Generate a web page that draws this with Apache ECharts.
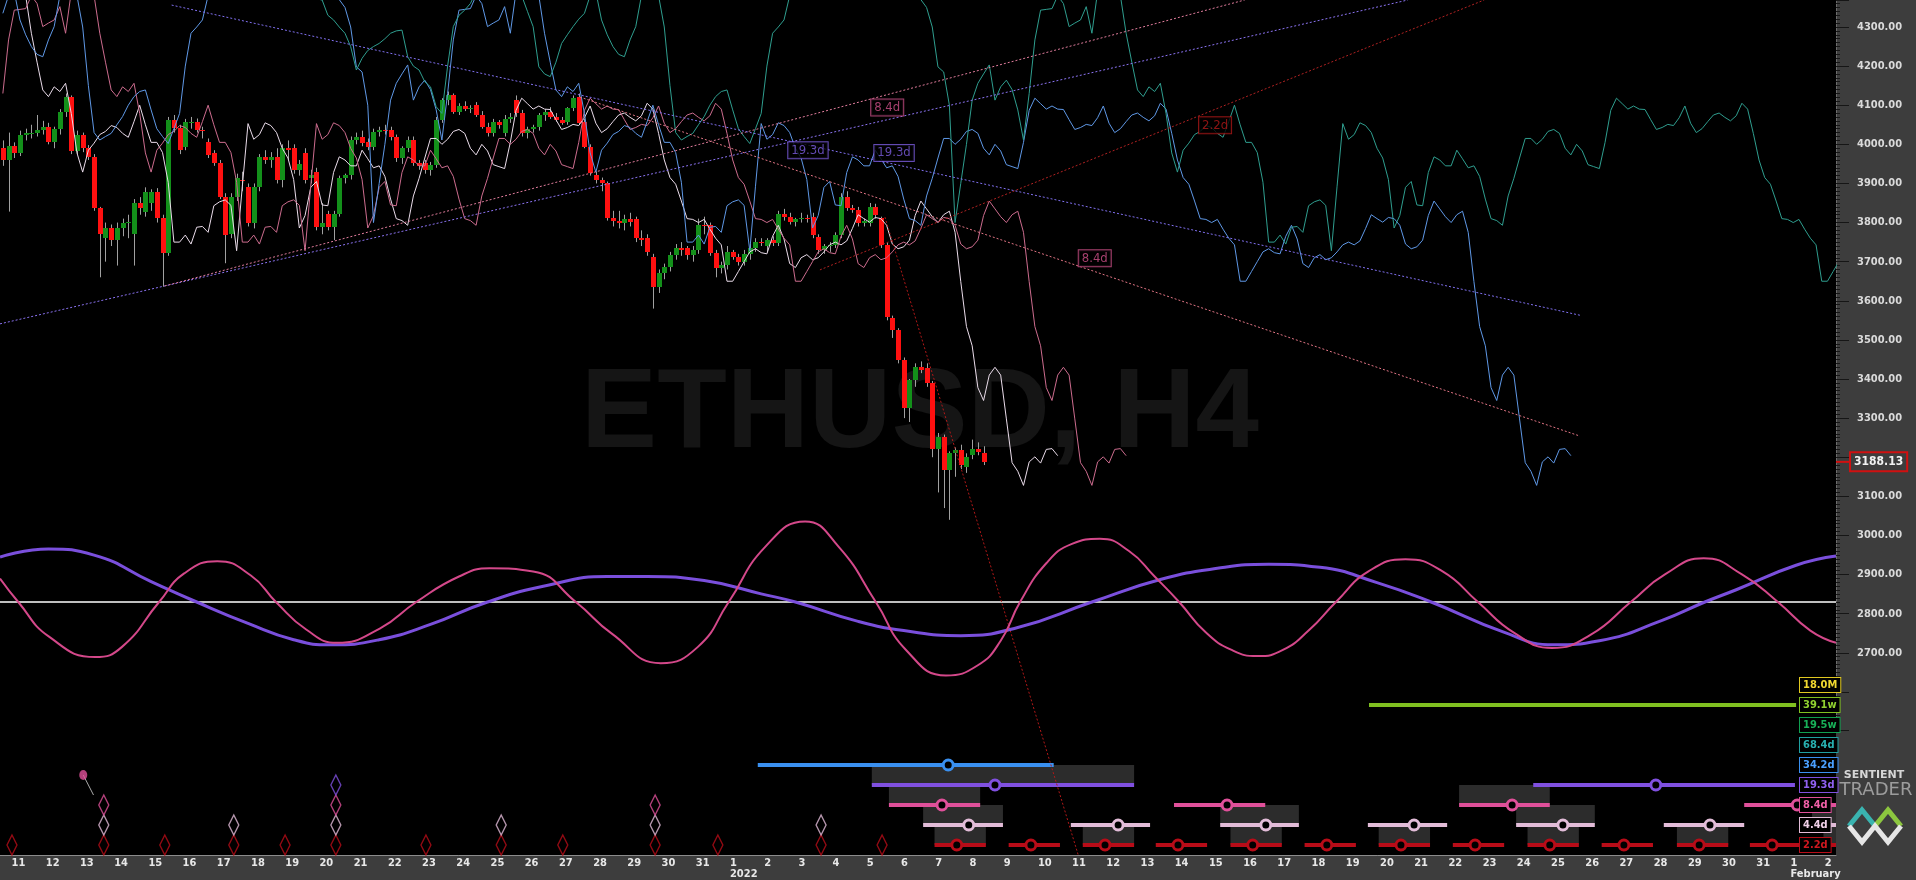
<!DOCTYPE html>
<html><head><meta charset="utf-8">
<script src="https://cdn.jsdelivr.net/npm/echarts@6/dist/echarts.min.js"></script>
<style>html,body{margin:0;padding:0;background:#3d3d3d;overflow:hidden}#c{width:1916px;height:880px}</style>
</head><body><div id="c"></div>
<script>
// ---------------- DATA ----------------
// 4-hour candles, bar 0 = 10 Dec 2021 20:00
const opens = [3990,3960,3995,3978,4024,4028,4030,4037,4045,4005,4038,4082,4120,3982,4025,3990,3968,3836,3760,3785,3755,3785,3798,3772,3849,3828,3850,3879,3811,3721,4062,4041,3994,4054,4058,4037,4007,3977,3951,3866,3772,3866,3910,3892,3798,3892,3968,3960,3968,3909,3990,3990,3934,3977,3913,3930,3789,3823,3789,3823,3913,3921,4011,4020,4007,3994,4032,4037,4037,4020,3964,3990,4011,3951,3951,3934,3947,4062,4113,4126,4083,4098,4090,4100,4075,4045,4028,4058,4028,4066,4113,4079,4028,4040,4045,4075,4083,4071,4062,4058,4092,4122,4058,3994,3921,3909,3900,3811,3805,3800,3808,3808,3760,3760,3713,3636,3670,3687,3717,3734,3734,3717,3730,3794,3794,3721,3683,3691,3725,3713,3700,3720,3735,3750,3740,3755,3747,3823,3815,3802,3808,3812,3815,3764,3730,3740,3742,3768,3866,3836,3833,3798,3798,3840,3811,3742,3555,3525,3448,3325,3397,3431,3427,3389,3222,3252,3167,3210,3218,3176,3205,3222,3210];
const highs = [4010,4030,4005,4035,4040,4050,4075,4060,4055,4045,4090,4130,4125,4035,4030,3998,3975,3840,3800,3795,3800,3810,3820,3860,3865,3890,3885,3888,3820,4070,4075,4050,4065,4070,4066,4045,4015,3985,3960,3875,3875,3925,3930,3900,3900,3975,3985,3980,3990,4000,4010,4000,3960,3990,3935,3940,3850,3830,3830,3920,3925,4020,4030,4035,4015,4040,4045,4050,4045,4025,3995,4020,4020,3960,3960,3955,4070,4118,4135,4130,4105,4110,4100,4108,4085,4055,4065,4062,4075,4080,4125,4088,4045,4050,4080,4090,4095,4080,4070,4095,4125,4130,4065,4000,3930,3915,3905,3830,3830,3820,3825,3815,3780,3770,3720,3680,3695,3725,3745,3750,3740,3740,3810,3815,3800,3730,3700,3740,3730,3720,3730,3745,3760,3760,3760,3765,3830,3835,3825,3812,3825,3820,3825,3770,3745,3750,3775,3875,3880,3845,3840,3810,3850,3848,3815,3748,3562,3530,3455,3400,3440,3445,3440,3395,3262,3258,3215,3225,3232,3210,3245,3238,3228];
const lows = [3945,3828,3965,3970,4010,4015,4020,4025,4000,3990,4025,4070,3975,3975,3980,3960,3830,3660,3700,3740,3690,3765,3760,3690,3820,3815,3830,3800,3636,3715,4030,3975,3985,4040,4030,4015,3965,3945,3860,3696,3760,3855,3880,3790,3785,3880,3950,3940,3900,3890,3960,3925,3920,3900,3900,3780,3770,3780,3755,3815,3900,3910,4000,3995,3985,3985,4020,4025,4010,3955,3950,3980,3945,3935,3925,3920,3940,4055,4100,4078,4075,4085,4080,4070,4040,4020,4020,4040,4020,4055,4070,4020,4015,4030,4035,4060,4065,4058,4050,4050,4085,4050,3990,3920,3900,3880,3805,3790,3785,3780,3790,3750,3740,3715,3580,3620,3655,3675,3705,3715,3705,3700,3720,3770,3715,3660,3670,3680,3705,3690,3690,3705,3725,3740,3725,3740,3740,3805,3795,3790,3800,3800,3760,3720,3720,3725,3735,3760,3830,3825,3790,3790,3790,3810,3735,3550,3505,3440,3300,3290,3380,3415,3380,3200,3110,3070,3040,3150,3170,3160,3195,3205,3180];
const closes = [3960,3995,3978,4024,4028,4030,4037,4045,4005,4038,4082,4120,3982,4025,3990,3968,3836,3772,3785,3755,3785,3798,3802,3849,3838,3879,3879,3811,3721,4062,4041,3985,4058,4058,4037,4033,3973,3951,3866,3768,3866,3913,3905,3798,3892,3968,3960,3968,3909,3990,3985,3934,3950,3909,3921,3789,3800,3789,3823,3913,3921,4011,4020,4003,3994,4032,4037,4035,4020,3964,3990,4011,3951,3945,3934,3947,4062,4113,4126,4083,4098,4090,4094,4075,4045,4028,4058,4050,4066,4070,4079,4028,4040,4045,4075,4083,4071,4062,4054,4092,4118,4054,3994,3926,3909,3900,3811,3805,3800,3808,3802,3760,3755,3725,3636,3670,3687,3717,3734,3730,3717,3730,3794,3790,3721,3683,3691,3725,3713,3700,3720,3735,3750,3747,3755,3747,3823,3815,3802,3808,3812,3808,3768,3730,3740,3742,3768,3866,3836,3833,3798,3803,3840,3819,3742,3559,3525,3448,3325,3397,3431,3422,3389,3222,3252,3167,3210,3218,3180,3201,3222,3213,3188.13];
const lastPrice = 3188.13;

// median price of each visible candle (FLD source), and of the 205 bars before the chart
const mid = [3978,3929,3985,4003,4025,4033,4048,4043,4028,4018,4058,4100,4050,4005,4005,3979,3903,3750,3750,3768,3745,3788,3790,3775,3843,3853,3858,3844,3728,3893,4053,4013,4025,4055,4048,4030,3990,3965,3910,3786,3818,3890,3905,3845,3843,3928,3968,3960,3945,3945,3985,3963,3940,3945,3918,3860,3810,3805,3793,3868,3913,3965,4015,4015,4000,4013,4033,4038,4028,3990,3973,4000,3983,3948,3943,3938,4005,4087,4118,4104,4090,4098,4090,4089,4063,4038,4043,4051,4048,4068,4098,4054,4030,4040,4058,4075,4080,4069,4060,4073,4105,4090,4028,3960,3915,3898,3855,3810,3808,3800,3808,3783,3760,3743,3650,3650,3675,3700,3725,3733,3723,3720,3765,3793,3758,3695,3685,3710,3718,3705,3710,3725,3743,3750,3743,3753,3785,3820,3810,3801,3813,3810,3793,3745,3733,3738,3755,3818,3855,3835,3815,3800,3820,3829,3775,3649,3534,3485,3378,3345,3410,3430,3410,3298,3186,3164,3128,3188,3201,3185,3220,3222,3204];
const hist = [4450,4470,4500,4520,4540,4560,4580,4600,4620,4640,4650,4640,4620,4600,4580,4560,4560,4580,4600,4620,4640,4650,4660,4650,4640,4620,4600,4580,4560,4540,4520,4500,4480,4470,4460,4450,4440,4430,4420,4420,4430,4440,4450,4440,4430,4420,4410,4400,4390,4390,4390,4385,4380,4380,4375,4372,4369,4330,4318,4300,4284,4250,4190,4220,4240,4250,4258,4270,4284,4290,4292,4224,4200,4190,4160,4147,4096,4079,4200,4301,4330,4343,4360,4390,4410,4420,4430,4420,4410,4400,4390,4380,4340,4301,4198,4180,4173,4210,4258,4280,4301,4320,4335,4380,4390,4318,4280,4250,4230,4224,4267,4301,4380,4400,4400,4380,4300,4150,4030,4011,4020,4028,4050,4071,4100,4122,4135,4139,4088,4040,4020,4002,4040,4079,4200,4284,4300,4318,4380,4400,4420,4440,4460,4480,4490,4500,4510,4500,4490,4480,4470,4460,4450,4440,4430,4420,4410,4400,4400,4390,4380,4370,4350,4300,4198,4185,4100,3800,3900,4000,4113,4156,4180,4203,4113,4147,4164,4140,4088,4011,4130,4267,4343,4345,4347,4380,4360,4301,4310,4318,4352,4284,4390,4410,4420,4400,4380,4284,4210,4139,4122,4147,4135,4156,4079];
// FLD forward shifts in bars (half cycle): 4.4d, 8.4d, 34.2d, 68.4d
const fldNames = ['4.4d FLD','8.4d FLD','34.2d FLD','68.4d FLD'];
const fldShifts = [13, 25, 103, 205];

// dotted trend lines [x1 bar, price1, x2 bar, price2]
const trendLines = [[-0.5,3541,246.4,4369],[28.4,3638,217.8,4369],[143.3,3679,259.8,4369],[154.7,3814,188.6,2183],[29.6,4356,276.6,3563],[101.2,4121,276.6,3254]];
const lineTags = [[155.1,4094,'8.4d'],[141.2,3985,'19.3d'],[156.3,3978,'19.3d'],[212.6,4049,'2.2d'],[191.5,3709,'8.4d']];

// cycle waves (amplitude units) [bar, value]
const wave193 = [[-0.5,44],[8,52],[16,46],[26,20],[34,0],[43,-21],[51,-37],[57.5,-42],[66,-37],[75,-22],[85,0],[96,17],[106,25],[113,25],[123,21],[133,8],[139,0],[150,-19],[158,-28],[168,-33],[178,-25],[191,0],[203,22],[213,33],[222,37],[231,34],[241,19],[250.5,0],[263,-29],[272,-42],[280,-38],[291,-18],[298.5,0],[304,12],[314.5,36],[321.5,45]];
const wave84 = [[-0.5,23],[2.7,0],[8.1,-34],[16.2,-54],[20.9,-44],[27.4,0],[31.8,28],[37.6,40],[43.5,26],[47.9,0],[53.2,-27],[58.6,-40],[66.1,-26],[72.5,0],[80,25],[85.4,33],[93,30],[100.5,0],[106.8,-31],[115.4,-60],[121.9,-44],[127.3,0],[133.7,54],[140.7,79],[146.6,54],[153.1,0],[158.4,-47],[165.4,-72],[171,-62],[175,-38],[178.4,0],[183,38],[187.5,57],[192.4,62],[197.5,50],[202,25],[206.3,0],[211,-30],[215.5,-47],[220,-53],[224.5,-47],[229,-28],[233.8,0],[239.5,30],[246,42],[252.5,30],[258.7,0],[265,-30],[271.7,-45],[278.5,-32],[285.5,0],[291.5,27],[298.3,43],[305,27],[311.3,0],[317,-28],[321.5,-40]];

// cycle rows
const rowNames = ['18.0M','39.1w','19.5w','68.4d','34.2d','19.3d','8.4d','4.4d','2.2d'];
// projected troughs [row, from bar, to bar, trough bar (-999 none), shaded]
const projections = [
 [1,239.6,314.5,-999,0],
 [4,132.4,184.3,165.8,0],
 [5,152.4,198.4,174.0,1],[5,268.4,314.3,289.9,0],
 [6,155.4,171.4,164.7,1],[6,205.4,221.4,214.7,0],[6,255.4,271.3,264.7,1],[6,305.4,330,314.7,0],
 [7,161.4,175.4,169.4,1],[7,187.3,201.2,195.6,0],[7,213.5,227.3,221.5,1],[7,239.4,253.3,247.5,0],[7,265.4,279.2,273.6,1],[7,291.3,305.4,299.4,0],[7,317.3,331.3,325.3,1],
 [8,163.4,172.4,167.3,1],[8,176.4,185.4,180.3,0],[8,189.4,198.4,193.3,1],[8,202.2,211.2,206.1,0],[8,215.3,224.3,219.2,1],[8,228.3,237.3,232.2,0],[8,241.3,250.3,245.2,1],[8,254.3,263.3,258.2,0],[8,267.4,276.4,271.3,1],[8,280.4,289.4,284.3,0],[8,293.6,302.6,297.5,1],[8,306.4,315.4,310.3,0],[8,319.3,328.3,323.2,1]
];
// past troughs [row, bar]
const pastTroughs = [
 [8,1.6],[8,17.7],[8,28.4],[8,40.5],[8,49.5],[8,58.4],[8,74.2],[8,87.4],[8,98.2],[8,114.4],[8,125.4],[8,143.5],[8,154.2],
 [7,17.7],[7,40.5],[7,58.4],[7,87.4],[7,114.4],[7,143.5],
 [6,17.7],[6,58.4],[6,114.4],
 [5,58.4]
];
const noteDot = [[14.1,4.5],[15.9,5.5]];

// x-axis day labels (11 Dec 2021 .. 2 Feb 2022)
const dayLabels = ['11','12','13','14','15','16','17','18','19','20','21','22','23','24','25','26','27','28','29','30','31',
 '1','2','3','4','5','6','7','8','9','10','11','12','13','14','15','16','17','18','19','20','21','22','23','24','25','26','27','28','29','30','31','1','2'];
const daySubLabels = {21:'2022', 52:'February'};

// ---------------- STYLE ----------------
const FONT = "'Liberation Sans Narrow','DejaVu Sans Condensed','Arial Narrow',sans-serif";
const X_MIN = -0.5, X_MAX = 321.5, Y_MIN = 2183, Y_MAX = 4369;
const DISP_MIN = Y_MAX - 730 * (Y_MAX - Y_MIN) / 855;
const UP = '#13901a', DOWN = '#ff1010', WICK = '#a0a0a0';
const fldColors = ['#eadcea','#cc6c8e','#5f98e6','#2f9e8f'];
const trendColors = ['#8a72f0','#e07c9c','#b02222','#b01818','#8070f0','#e07484'];
const lineTagColors = ['#d0508a','#7c5ce0','#7c5ce0','#b01818','#d0508a'];
const rowColors = ['#e0c820','#80c020','#10a050','#20a0a0','#3a90f0','#8050e0','#e0509a','#e2bcd8','#b80c18'];
const rowTextColors = ['#f0d830','#90d030','#18b058','#28b0b0','#4aa0ff','#9060f0','#f060a8','#f0d0e8','#d01820'];

// ---------------- BUILD ----------------
const SLOTS = 322;
const slotLabels = [''], slotSubs = [''];
dayLabels.forEach((d, k) => {
  slotLabels.push(d);
  slotSubs.push(daySubLabels[k] || '');
  for (let j = 0; j < 5; j++) { slotLabels.push(''); slotSubs.push(''); }
});
slotLabels.length = SLOTS; slotSubs.length = SLOTS;
const slotCats = slotLabels.map((_, i) => 's' + i);
const isDay = (i) => slotLabels[i] !== '';
const hasSub = (i) => slotSubs[i] !== '';

const bars = closes.map((c, i) => [i, opens[i], highs[i], lows[i], c]);

function renderCandle(params, api) {
  const i = api.value(0), o = api.value(1), h = api.value(2), l = api.value(3), c = api.value(4);
  const pH = api.coord([i, h]), pL = api.coord([i, l]), pO = api.coord([i, o]), pC = api.coord([i, c]);
  const x = Math.round(pH[0]);
  const top = Math.round(Math.min(pO[1], pC[1])), bot = Math.round(Math.max(pO[1], pC[1]));
  return {type: 'group', children: [
    {type: 'line', shape: {x1: x + 0.5, y1: pH[1], x2: x + 0.5, y2: pL[1]}, style: {stroke: WICK, lineWidth: 1}},
    {type: 'rect', shape: {x: x - 2, y: top, width: 5, height: Math.max(1, bot - top)}, style: {fill: c >= o ? UP : DOWN}}
  ]};
}
function renderShade(params, api) {
  const row = api.value(0), x1 = api.value(1), x2 = api.value(2);
  const a = api.coord([x1, row - 1]), b = api.coord([x2, row]);
  return {type: 'rect', shape: {x: a[0], y: a[1], width: b[0] - a[0], height: b[1] - a[1]}, style: {fill: '#2c2c2c'}};
}
function renderProj(params, api) {
  const row = api.value(0), x1 = api.value(1), x2 = api.value(2), xc = api.value(3);
  const col = rowColors[row];
  const a = api.coord([x1, row]), b = api.coord([x2, row]);
  const ch = [{type: 'line', shape: {x1: a[0], y1: a[1], x2: b[0], y2: b[1]}, style: {stroke: col, lineWidth: 4}}];
  if (xc > -100) {
    const c = api.coord([xc, row]);
    ch.push({type: 'circle', shape: {cx: c[0], cy: c[1], r: 5}, style: {fill: '#000', stroke: col, lineWidth: 3}});
  }
  return {type: 'group', children: ch};
}

const series = [];
series.push({type: 'custom', name: 'ETHUSD', xAxisIndex: 0, yAxisIndex: 0, z: 3, clip: true, silent: true,
  encode: {x: 0, y: [1, 2, 3, 4]}, data: bars, renderItem: renderCandle});

fldShifts.forEach((s, k) => {
  const src = hist.slice(hist.length - s).concat(mid);
  series.push({type: 'line', name: fldNames[k], xAxisIndex: 0, yAxisIndex: 0, z: 4, silent: true, clip: true,
    showSymbol: false, symbol: 'none', data: src.map((v, j) => [j, v]),
    lineStyle: {color: fldColors[k], width: 1}});
});

trendLines.forEach((t, k) => {
  series.push({type: 'line', xAxisIndex: 0, yAxisIndex: 0, z: 5, silent: true, clip: true, showSymbol: false, symbol: 'none',
    data: [[t[0], t[1]], [t[2], t[3]]], lineStyle: {color: trendColors[k], width: 1, type: [2, 2]}});
});

series.push({type: 'scatter', xAxisIndex: 0, yAxisIndex: 0, z: 6, silent: true, symbolSize: 0,
  data: lineTags.map((t, k) => ({value: [t[0], t[1]], label: {formatter: t[2], color: lineTagColors[k], borderColor: lineTagColors[k]}})),
  label: {show: true, position: 'inside', fontSize: 13, fontFamily: FONT, backgroundColor: '#000', borderWidth: 1, padding: [2, 3, 1, 3]}});

// last price tag on the price scale
series.push({type: 'line', xAxisIndex: 0, yAxisIndex: 0, silent: true, clip: false, showSymbol: false, symbol: 'none', z: 20,
  data: [[closes.length - 1, lastPrice]], lineStyle: {color: 'rgba(0,0,0,0)'},
  markLine: {silent: true, symbol: ['none', 'none'], lineStyle: {color: 'rgba(0,0,0,0)', width: 1, type: 'solid'},
    label: {show: true, opacity: 1, position: 'end', formatter: '{c|}{t|' + lastPrice.toFixed(2) + '}', distance: 0, padding: 0,
      rich: {c: {width: 15, height: 2, backgroundColor: '#d01010'},
        t: {color: '#f2f2f2', backgroundColor: '#3d3d3d', borderColor: '#d01010', borderWidth: 2, padding: [3, 3, 2, 3],
          fontSize: 12, fontWeight: 'bold', fontFamily: FONT}}},
    data: [{yAxis: lastPrice}]}});

series.push({type: 'line', xAxisIndex: 2, yAxisIndex: 1, z: 5, silent: true, showSymbol: false, symbol: 'none', smooth: 0.5,
  data: wave193, lineStyle: {color: '#7a4fdc', width: 3},
  markLine: {silent: true, symbol: ['none', 'none'], label: {show: false}, lineStyle: {color: '#ffffff', width: 1.5, type: 'solid'}, data: [{yAxis: 0}]}});
series.push({type: 'line', xAxisIndex: 2, yAxisIndex: 1, z: 5, silent: true, showSymbol: false, symbol: 'none', smooth: 0.5,
  data: wave84, lineStyle: {color: '#d4488a', width: 2}});

series.push({type: 'custom', xAxisIndex: 3, yAxisIndex: 3, z: 3, clip: true, silent: true, encode: {x: [1, 2], y: 0},
  data: projections.filter(p => p[4]), renderItem: renderShade});
series.push({type: 'custom', xAxisIndex: 3, yAxisIndex: 3, z: 4, clip: true, silent: true, encode: {x: [1, 2], y: 0},
  data: projections, renderItem: renderProj});
series.push({type: 'scatter', xAxisIndex: 3, yAxisIndex: 3, z: 4, silent: true, symbol: 'diamond', symbolSize: [10, 20],
  data: pastTroughs.map(p => ({value: [p[1], p[0]], itemStyle: {borderColor: rowColors[p[0]]}})),
  itemStyle: {color: 'rgba(0,0,0,0)', borderWidth: 1.5}});
series.push({type: 'line', xAxisIndex: 3, yAxisIndex: 3, z: 4, silent: true, symbol: 'none',
  data: noteDot, lineStyle: {color: '#aaaaaa', width: 1}});
series.push({type: 'scatter', xAxisIndex: 3, yAxisIndex: 3, z: 5, silent: true, symbol: 'circle', symbolSize: [8, 10],
  data: [noteDot[0]], itemStyle: {color: '#e0509a'}});

const rowRich = {};
rowNames.forEach((n, i) => {
  rowRich['r' + i] = {color: rowTextColors[i], borderColor: rowColors[i], borderWidth: 1, backgroundColor: '#000',
    padding: [2, 3, 1, 3], fontSize: 11, fontWeight: 'bold', fontFamily: FONT, lineHeight: 12};
});

const noZero = {onZero: false};
const option = {
  animation: false,
  backgroundColor: '#3d3d3d',
  textStyle: {fontFamily: FONT},
  grid: [
    {left: 0, right: 80, top: 0, bottom: 25, show: true, backgroundColor: '#000', borderWidth: 0},
    {left: 0, right: 80, top: 500, height: 204, show: false},
    {left: 0, right: 80, top: 675, height: 180, show: false},
    {left: 0, right: 80, top: 0, height: 730, show: false}
  ],
  xAxis: [
    {type: 'value', gridIndex: 0, min: X_MIN, max: X_MAX, show: false, axisLine: noZero},
    {type: 'category', gridIndex: 0, data: slotCats, boundaryGap: true, position: 'bottom',
      axisLine: {onZero: false, lineStyle: {color: '#8c8c8c', width: 1}},
      axisTick: {alignWithLabel: true, interval: isDay, length: 7, lineStyle: {color: '#141414'}},
      axisLabel: {interval: isDay, formatter: (v, i) => slotLabels[i], align: 'left', margin: 3, padding: [0, 0, 0, 3],
        color: '#e8e8e8', fontSize: 11, fontWeight: 'bold', fontFamily: FONT, hideOverlap: false},
      splitLine: {show: false}},
    {type: 'value', gridIndex: 1, min: X_MIN, max: X_MAX, show: false, axisLine: noZero},
    {type: 'value', gridIndex: 2, min: X_MIN, max: X_MAX, show: false, axisLine: noZero},
    {type: 'value', gridIndex: 3, min: X_MIN, max: X_MAX, show: false, axisLine: noZero},
    {type: 'category', gridIndex: 0, data: slotCats, boundaryGap: true, position: 'bottom',
      axisLine: {show: false, onZero: false}, axisTick: {show: false}, splitLine: {show: false},
      axisLabel: {interval: hasSub, formatter: (v, i) => slotSubs[i], align: 'left', margin: 14, padding: [0, 0, 0, 3],
        color: '#e8e8e8', fontSize: 11, fontWeight: 'bold', fontFamily: FONT, hideOverlap: false}}
  ],
  yAxis: [
    {type: 'value', gridIndex: 0, min: Y_MIN, max: Y_MAX, position: 'right', show: false, axisLine: noZero},
    {type: 'value', gridIndex: 1, min: -100, max: 100, show: false, axisLine: noZero},
    {type: 'category', gridIndex: 2, data: rowNames, inverse: true, position: 'right', z: 10,
      axisLine: {show: false, onZero: false}, axisTick: {show: false}, splitLine: {show: false},
      axisLabel: {inside: true, align: 'left', margin: 36, formatter: (v, i) => '{r' + i + '|' + v + '}', rich: rowRich}},
    {type: 'value', gridIndex: 2, min: -0.5, max: 8.5, inverse: true, show: false, position: 'left', axisLine: noZero},
    {type: 'value', gridIndex: 3, min: DISP_MIN, max: Y_MAX, position: 'right', minInterval: 100, maxInterval: 100, splitNumber: 19,
      axisLine: {show: true, onZero: false, lineStyle: {color: '#6c6c6c'}},
      axisTick: {show: true, length: 13, lineStyle: {color: '#161616'}},
      minorTick: {show: true, splitNumber: 10, length: 4, lineStyle: {color: '#161616'}},
      splitLine: {show: false}, minorSplitLine: {show: false},
      axisLabel: {margin: 21, color: '#dadada', fontSize: 11, fontWeight: 'bold', fontFamily: FONT,
        showMinLabel: false, showMaxLabel: false, formatter: v => (v < 2650 ? '' : v.toFixed(2))}}
  ],
  graphic: [
    {type: 'text', x: 920, y: 416, z: 1, silent: true,
      style: {text: 'ETHUSD, H4', font: 'bold 114px "Liberation Sans", Arial, sans-serif', fill: '#151515', align: 'center', verticalAlign: 'middle'}},
    {type: 'text', x: 1874, y: 775, z: 20, silent: true,
      style: {text: 'SENTIENT', font: 'bold 11px "DejaVu Sans", sans-serif', fill: '#d6d6d6', align: 'center', verticalAlign: 'middle'}},
    {type: 'text', x: 1876, y: 790, z: 20, silent: true,
      style: {text: 'TRADER', font: '18px "DejaVu Sans", sans-serif', fill: '#9c9c9c', align: 'center', verticalAlign: 'middle'}},
    {type: 'polyline', z: 20, silent: true, shape: {points: [[1849, 826], [1862, 810], [1875, 826]]}, style: {stroke: '#3ab4b0', lineWidth: 5, fill: null}},
    {type: 'polyline', z: 20, silent: true, shape: {points: [[1875, 826], [1888, 810], [1901, 826]]}, style: {stroke: '#8cc63f', lineWidth: 5, fill: null}},
    {type: 'polyline', z: 20, silent: true, shape: {points: [[1849, 826], [1862, 842], [1875, 826], [1888, 842], [1901, 826]]}, style: {stroke: '#e6e6e6', lineWidth: 5, fill: null}}
  ],
  series: series
};

const chart = echarts.init(document.getElementById('c'), null, {renderer: 'canvas', width: 1916, height: 880});
chart.setOption(option);
</script>
</body></html>
